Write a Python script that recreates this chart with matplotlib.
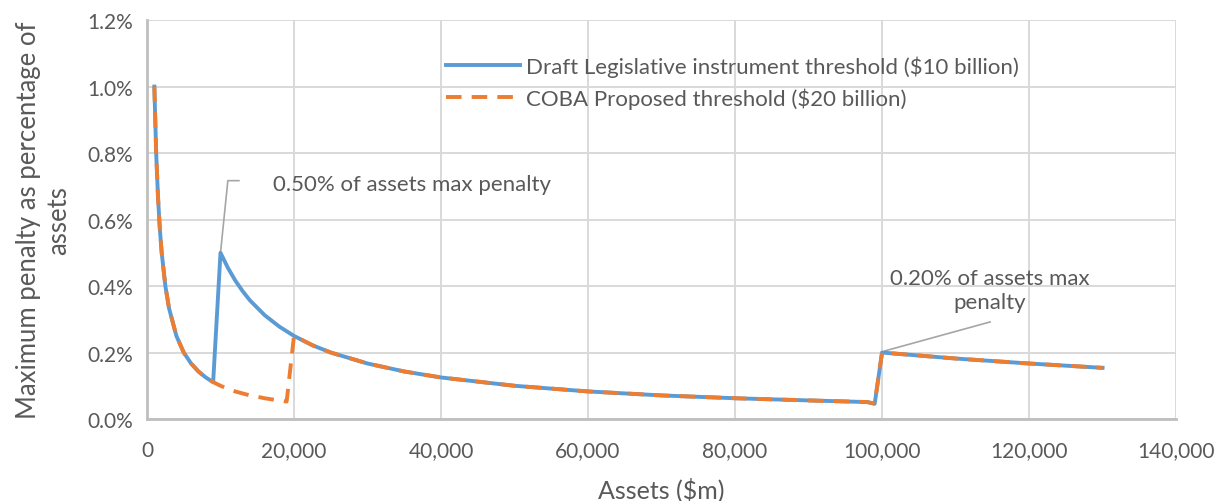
import matplotlib
matplotlib.use("Agg")
import matplotlib.pyplot as plt
from matplotlib.ticker import FuncFormatter, MultipleLocator

plt.rcParams['font.family'] = ['Lato', 'DejaVu Sans']

# Assets ($m) and maximum penalty as % of assets
draft_assets = [1000, 1250, 1500, 1750, 2000, 2500, 3000, 4000, 5000, 6000, 7000,
                8000, 9000, 10000, 11000, 12000, 13000, 14000, 16000, 18000,
                20000, 22500, 25000, 30000, 35000, 40000, 50000, 60000, 70000,
                80000, 90000, 98000, 99000, 100000, 110000, 120000, 130000]
draft_pct = [1.0, 0.8, 0.667, 0.571, 0.5, 0.4, 0.333, 0.25, 0.2, 0.167, 0.143,
             0.125, 0.111, 0.5, 0.455, 0.417, 0.385, 0.357, 0.3125, 0.278,
             0.25, 0.222, 0.2, 0.167, 0.143, 0.125, 0.1, 0.083, 0.071,
             0.0625, 0.056, 0.051, 0.046, 0.2, 0.182, 0.167, 0.154]

coba_assets = [1000, 1250, 1500, 1750, 2000, 2500, 3000, 4000, 5000, 6000, 7000,
               8000, 9000, 10000, 11000, 12000, 13000, 14000, 15000, 16000, 17000,
               18000, 19000, 20000, 22500, 25000, 30000, 35000, 40000, 50000,
               60000, 70000, 80000, 90000, 98000, 99000, 100000, 110000, 120000,
               130000]
coba_pct = [1.0, 0.8, 0.667, 0.571, 0.5, 0.4, 0.333, 0.25, 0.2, 0.167, 0.143,
            0.125, 0.111, 0.1, 0.091, 0.083, 0.077, 0.071, 0.067, 0.0625, 0.059,
            0.056, 0.0526, 0.25, 0.222, 0.2, 0.167, 0.143, 0.125, 0.1,
            0.083, 0.071, 0.0625, 0.056, 0.051, 0.046, 0.2, 0.182, 0.167,
            0.154]

series_labels = ["Draft Legislative instrument threshold ($10 billion)",
                 "COBA Proposed threshold ($20 billion)"]

TEXT = "#595959"
GRID = "#d9d9d9"
AXIS = "#bfbfbf"
LEADER = "#a6a6a6"
BLUE = "#5b9bd5"
ORANGE = "#ed7d31"

fig = plt.figure(figsize=(12.28, 5.02), dpi=100)
ax = fig.add_axes([0.1197, 0.1633, 0.8380, 0.7947])

ax.plot(draft_assets, draft_pct, color=BLUE, lw=2.8, solid_joinstyle='round',
        label=series_labels[0], zorder=3)
ax.plot(coba_assets, coba_pct, color=ORANGE, lw=2.8, dashes=(4, 2.6),
        label=series_labels[1], zorder=4)

ax.set_xlim(0, 140000)
ax.set_ylim(0, 1.2)
ax.xaxis.set_major_locator(MultipleLocator(20000))
ax.yaxis.set_major_locator(MultipleLocator(0.2))
ax.xaxis.set_major_formatter(FuncFormatter(lambda v, p: f"{int(v):,}"))
ax.yaxis.set_major_formatter(FuncFormatter(lambda v, p: f"{v:.1f}%"))

ax.grid(True, color=GRID, lw=1.4, zorder=0)
ax.set_axisbelow(True)
for side in ("top", "right"):
    ax.spines[side].set_visible(False)
for side in ("left", "bottom"):
    ax.spines[side].set_color(AXIS)
    ax.spines[side].set_linewidth(2)
ax.tick_params(length=0, labelsize=15, colors=TEXT)
ax.tick_params(axis="x", pad=15)
ax.tick_params(axis="y", pad=10)

ax.set_xlabel("Assets ($m)", fontsize=18, color=TEXT, labelpad=12)
ax.set_ylabel("Maximum penalty as percentage of\nassets", fontsize=18.5,
              color=TEXT, labelpad=12, linespacing=1.25)

leg = ax.legend(loc="upper left", bbox_to_anchor=(0.28, 0.94), frameon=False,
                fontsize=16, labelcolor=TEXT, handlelength=3.3,
                handletextpad=0.3, labelspacing=0.5, borderpad=0)

# Callouts
ax.plot([10000, 11000, 12500], [0.5, 0.717, 0.717], color=LEADER, lw=1.2,
        zorder=2)
ax.text(17100, 0.707, "0.50% of assets max penalty", fontsize=16,
        color=TEXT, ha="left", va="center")
ax.plot([100400, 114700], [0.205, 0.292], color=LEADER, lw=1.2, zorder=2)
ax.text(114700, 0.388, "0.20% of assets max\npenalty", fontsize=16,
        color=TEXT, ha="center", va="center", linespacing=1.3)

fig.savefig("out.png", dpi=100, facecolor="white")
